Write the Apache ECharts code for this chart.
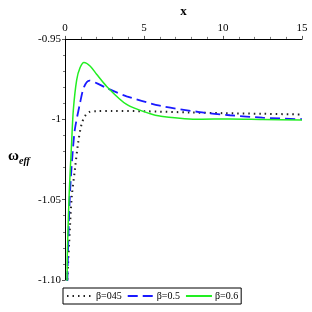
<!DOCTYPE html>
<html><head><meta charset="utf-8">
<script src="https://cdn.jsdelivr.net/npm/echarts@6/dist/echarts.min.js"></script>
<style>html,body{margin:0;padding:0;background:#fff}#c{width:312px;height:312px}</style>
</head><body><div id="c"></div>
<script>
// beta = 0.45 (dotted black)
const xDot = [0.12,0.15,0.21,0.27,0.42,0.63,0.84,1.05,1.27,1.54,2.0,3.0,5.0,8.0,10.0,12.5,15.0];
const yDot = [-1.11,-1.10,-1.087,-1.0755,-1.049,-1.031,-1.014,-1.003,-0.998,-0.9955,-0.995,-0.9948,-0.995,-0.9958,-0.9962,-0.9966,-0.997];
// beta = 0.5 (dashed blue)
const xDash = [0.12,0.15,0.21,0.32,0.49,0.63,0.95,1.2,1.54,2.0,2.64,3.9,6.0,8.5,10.44,12.5,15.0];
const yDash = [-1.11,-1.10,-1.0755,-1.045,-1.020,-1.006,-0.990,-0.980,-0.9759,-0.9775,-0.9806,-0.9857,-0.9915,-0.9955,-0.9975,-0.999,-1.0];
// beta = 0.6 (solid green)
const xSol = [0.1,0.13,0.15,0.27,0.42,0.53,0.74,0.95,1.2,1.6,2.0,2.64,3.9,5.4,6.0,8.5,10.4,12.5,15.0];
const ySol = [-1.11,-1.10,-1.083,-1.045,-1.0143,-0.9939,-0.9755,-0.968,-0.9647,-0.967,-0.972,-0.9796,-0.9908,-0.9966,-0.998,-1.0,-0.9998,-1.0001,-1.0004];
const legendNames = ['β=045','β=0.5','β=0.6'];
const yTickText = {'-0.95':'-0.95','-1':'-1','-1.05':'-1.05','-1.1':'-1.10'};

const zip = (xs, ys) => xs.map((x, i) => [x, ys[i]]);
const font = '"Liberation Serif","Times New Roman",serif';
const chart = echarts.init(document.getElementById('c'));
chart.setOption({
  animation: false,
  grid: {left: 65, top: 35, right: 10, bottom: 32, containLabel: false},
  xAxis: {
    type: 'value', position: 'top', min: 0, max: 15, interval: 5,
    axisLine: {show: true, lineStyle: {color: '#000', width: 1}},
    axisTick: {show: true, length: 3, lineStyle: {color: '#555'}},
    minorTick: {show: true, splitNumber: 5, length: 2, lineStyle: {color: '#777'}},
    splitLine: {show: false},
    axisLabel: {color: '#000', fontFamily: font, fontSize: 11, margin: 5},
    name: 'x', nameLocation: 'middle', nameGap: 15,
    nameTextStyle: {fontFamily: font, fontWeight: 'bold', fontSize: 13, color: '#000'}
  },
  yAxis: {
    type: 'value', min: -1.10, max: -0.95, interval: 0.05,
    axisLine: {show: true, lineStyle: {color: '#000', width: 1}},
    axisTick: {show: true, length: 3, lineStyle: {color: '#555'}},
    minorTick: {show: true, splitNumber: 5, length: 2, lineStyle: {color: '#777'}},
    splitLine: {show: false},
    axisLabel: {color: '#000', fontFamily: font, fontSize: 11, margin: 4,
      formatter: v => yTickText[String(Math.round(v*100)/100)] || String(v)}
  },
  legend: {
    left: 63, top: 288, itemGap: 5, itemWidth: 26, itemHeight: 8,
    padding: [3, 3], borderColor: '#000', borderWidth: 1, borderRadius: 0,
    itemStyle: {opacity: 0},
    textStyle: {fontFamily: font, fontSize: 10, color: '#000', padding: [0, 0, 0, -2]},
    data: legendNames
  },
  graphic: [{
    type: 'text', left: 8, top: 149,
    style: {
      text: '{w|ω}{s|eff}',
      rich: {
        w: {fontFamily: font, fontWeight: 'bold', fontSize: 15, fill: '#000'},
        s: {fontFamily: font, fontStyle: 'italic', fontWeight: 'bold', fontSize: 10, fill: '#000', padding: [10, 0, 0, 0]}
      }
    }
  }],
  series: [
    {name: legendNames[0], type: 'line', data: zip(xDot, yDot), smooth: 0.3, showSymbol: false, symbol: 'none', clip: true,
     lineStyle: {color: '#222', width: 2, type: [1.5, 4]}, itemStyle: {color: '#222'}},
    {name: legendNames[1], type: 'line', data: zip(xDash, yDash), smooth: 0.3, showSymbol: false, symbol: 'none', clip: true,
     lineStyle: {color: '#1a1aff', width: 1.8, type: [10, 5]}, itemStyle: {color: '#1a1aff'}},
    {name: legendNames[2], type: 'line', data: zip(xSol, ySol), smooth: 0.3, showSymbol: false, symbol: 'none', clip: true,
     lineStyle: {color: '#22ee22', width: 1.5}, itemStyle: {color: '#22ee22'}}
  ]
});
</script></body></html>
